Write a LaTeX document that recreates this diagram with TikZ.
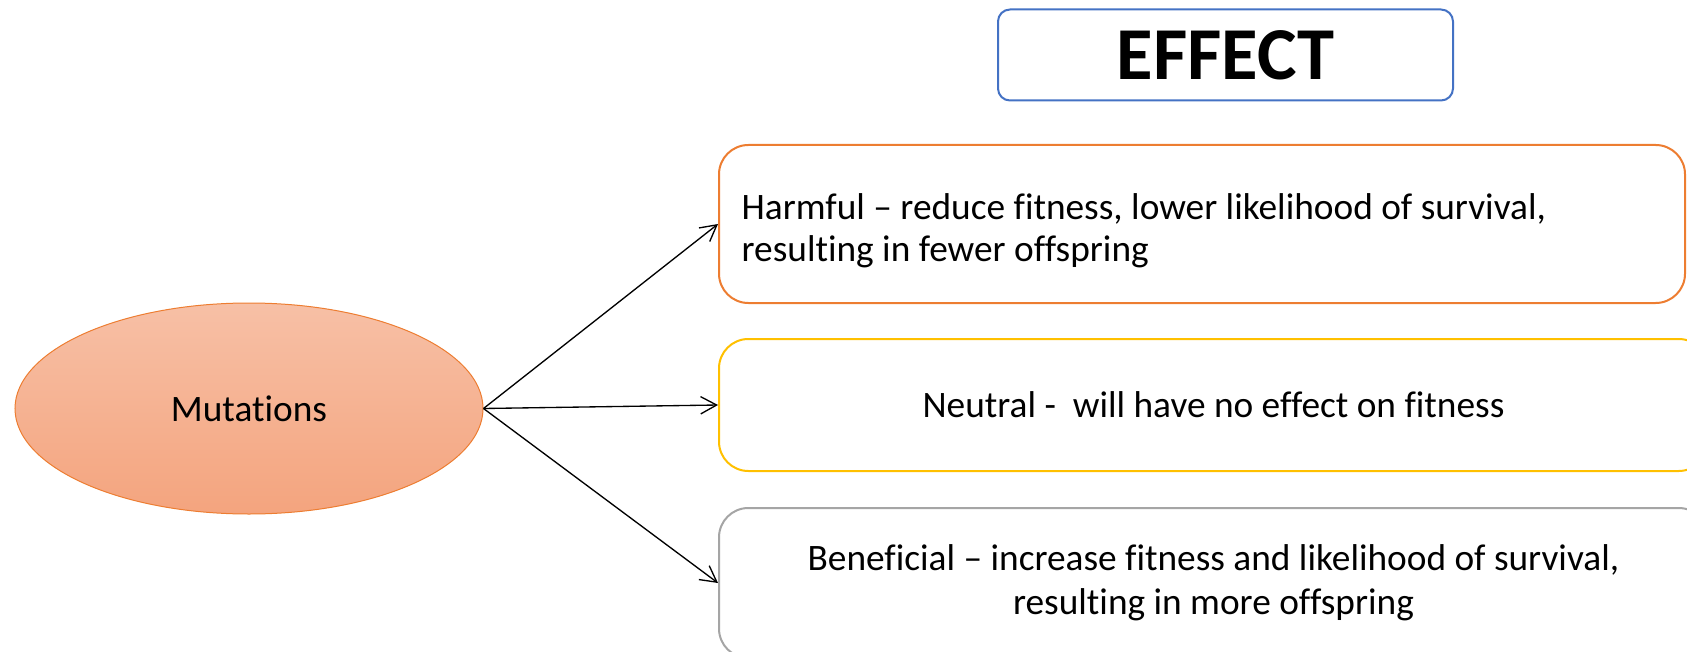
\documentclass[tikz,border=0pt]{standalone}
\usepackage{fontspec}
\setmainfont[Ligatures={NoCommon}]{Carlito}
\usetikzlibrary{shapes.geometric,arrows.meta}

\definecolor{effectblue}{RGB}{68,114,196}
\definecolor{harmorange}{RGB}{237,125,49}
\definecolor{neutyellow}{RGB}{255,192,0}
\definecolor{benegray}{RGB}{165,165,165}
\definecolor{muttop}{RGB}{247,192,166}
\definecolor{mutbottom}{RGB}{244,164,126}

\tikzset{every picture/.style={line width=0.75pt}}
\tikzset{
  effectbox/.style={draw=effectblue, line width=1.5, rounded corners=9,
    minimum width=341.25pt, minimum height=68.25pt, inner sep=0pt,
    font=\fontsize{56}{60}\selectfont\bfseries},
  mutation/.style={ellipse, draw=harmorange, line width=0.75,
    top color=muttop, bottom color=mutbottom,
    minimum width=351pt, minimum height=158.25pt, inner sep=0pt,
    font=\fontsize{28}{31.5}\selectfont},
  effectcard/.style={rectangle, draw=#1, line width=1.5, rounded corners=22, fill=white,
    font=\fontsize{28}{31.5}\selectfont},
  droptext/.style={execute at begin node={\rule{0pt}{#1}}},
  link/.style={-{Straight Barb[length=12pt,width=13pt]}, line width=1}
}

\begin{document}
\begin{tikzpicture}[x=0.75pt,y=0.75pt,yscale=-1,xscale=1]
%set diagram frame
\clip (0,0) rectangle (1687,652);

%Shape: Rounded Rect [id:effect]
\node [effectbox] (effect) at (1225.5,55) {EFFECT};

%Shape: Ellipse [id:mut]
\node [mutation] (mut) at (249,408.5) {Mutations};

%Shape: Rounded Rect [id:harm]
\node [effectcard=harmorange, minimum width=724.5pt, minimum height=118.5pt,
  inner xsep=17pt, text width=690.5pt, align=flush left, droptext=30pt] (harm) at (1202,224)
  {Harmful – reduce fitness, lower likelihood of survival,\\resulting in fewer offspring};
%Shape: Rounded Rect [id:neut]
\node [effectcard=neutyellow, minimum width=741.75pt, minimum height=99pt] (neut) at (1213.5,405)
  {Neutral -~ will have no effect on fitness};
%Shape: Rounded Rect [id:bene]
\node [effectcard=benegray, minimum width=741.75pt, minimum height=112.5pt,
  align=center, droptext=38pt] (bene) at (1213.5,583)
  {Beneficial – increase fitness and likelihood of survival,\\[1.5pt]resulting in more offspring};

%Straight Lines
\draw [link] (mut.east) -- (harm.west) ;
\draw [link] (mut.east) -- (neut.west) ;
\draw [link] (mut.east) -- (bene.west) ;

\end{tikzpicture}
\end{document}
